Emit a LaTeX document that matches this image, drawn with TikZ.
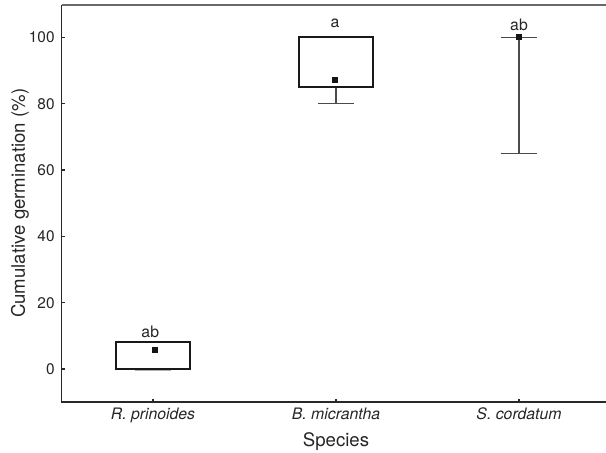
\documentclass[tikz,border=0pt]{standalone}
\usepackage{fontspec}
\setmainfont{TeX Gyre Heros}
\usepackage{tikz}
\usetikzlibrary{positioning}
\definecolor{axisdark}{RGB}{40,40,40}
\definecolor{framegray}{RGB}{105,105,105}
\definecolor{whiskgray}{RGB}{75,75,75}
\definecolor{faintgray}{RGB}{175,175,175}
\definecolor{markdark}{RGB}{20,20,20}
\tikzset{
  boxpart/.style={draw=black!90, line width=1pt},
  whisker/.style={draw=whiskgray, line width=0.65pt},
  meanmark/.style={rectangle, fill=markdark, minimum size=3pt, inner sep=0pt},
  ticklabel/.style={font=\fontsize{7.7}{9}\selectfont, text=black!85, inner sep=0pt},
  grouplabel/.style={font=\fontsize{7.9}{9}\selectfont, text=black!85, inner sep=0pt},
  axistitle/.style={font=\fontsize{9.3}{11}\selectfont, text=black!85, inner sep=0pt}
}

\begin{document}
\begin{tikzpicture}[x=0.5pt, y=0.5pt]
  \useasboundingbox (0,0) rectangle (606,453);

  % data scope: x = species index, y = germination (%)
  \begin{scope}[shift={(-15pt,42pt)}, x=91.5pt, y=1.6575pt]

  % Draw axes
  \draw[axisdark, line width=0.75pt] (0.5,109.7) -- (0.5,-10) -- (3.48,-10);
  \draw[framegray, line width=1pt] (0.5,109.7) -- (3.48,109.7);

  % y ticks and labels
  \foreach \v in {0,20,...,100} {
    \draw[axisdark, line width=0.6pt] (0.5,\v) -- (0.518,\v);
    \node[ticklabel, anchor=east] (ytick\v) at (0.4645,\v) {\v};
  }

  % x ticks and species names
  \foreach \i/\sp/\nm in {1/R. prinoides/prin, 2/B. micrantha/micr, 3/S. cordatum/cord} {
    \draw[axisdark, line width=0.6pt] (\i,-10) -- (\i,-9.1);
    \node[grouplabel, anchor=base] (xtick\nm) at (\i,-15.1) {\itshape\sp};
  }

  % axis titles
  \node[axistitle, anchor=base] (xtitle) at (2,-23.45) {Species};
  \node[axistitle, anchor=base, rotate=90] (ytitle) at (0.3005,50) {Cumulative germination (\%)};

  % R. prinoides
  \draw[faintgray, line width=0.6pt] (0.9,-0.3) -- (1.1,-0.3);
  \draw[boxpart] (0.8,0) rectangle (1.2,8.25);
  \node[meanmark] (meanprin) at (1.01,5.7) {};
  \node[grouplabel, anchor=base] (sigprin) at (0.985,9.56) {ab};

  % B. micrantha
  \draw[whisker] (1.9,80) -- (2.1,80);
  \draw[whisker] (2,80) -- (2,85);
  \draw[boxpart] (1.8,85) rectangle (2.2,100);
  \node[meanmark] (meanmicr) at (1.995,87.3) {};
  \node[grouplabel, anchor=base] (sigmicr) at (1.995,102.96) {a};

  % S. cordatum
  \draw[whisker] (2.9,65) -- (3.1,65);
  \draw[whisker] (2.9,100) -- (3.1,100);
  \draw[whisker] (3,65) -- (3,100);
  \node[meanmark] (meancord) at (3,100) {};
  \node[grouplabel, anchor=base] (sigcord) at (3,101.96) {ab};

  \end{scope}
\end{tikzpicture}
\end{document}
